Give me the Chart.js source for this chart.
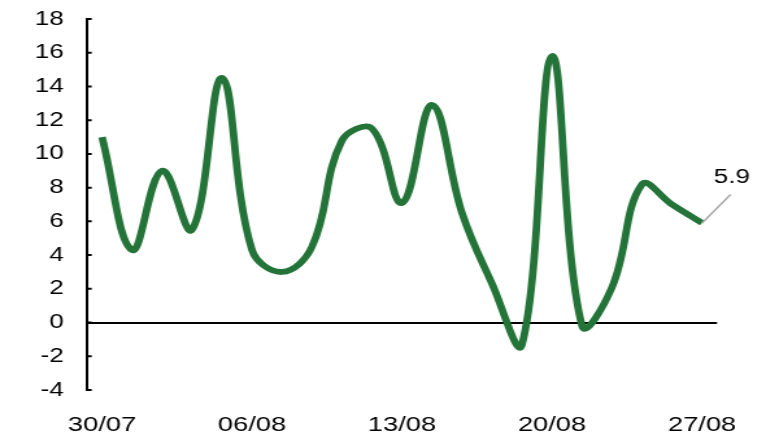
<!DOCTYPE html>
<html>
<head>
<meta charset="utf-8">
<script src="https://cdn.jsdelivr.net/npm/chart.js@4.4.0/dist/chart.umd.min.js"></script>
<style>
  html, body { margin: 0; padding: 0; background: #ffffff; overflow: hidden; }
  #stage { width: 779px; height: 432px; overflow: hidden; }
  /* the chart is laid out narrow and widened to the full frame */
  #wrap { width: 600px; height: 432px; transform: scaleX(1.2983); transform-origin: 0 0; }
</style>
</head>
<body>
<div id="stage"><div id="wrap"><canvas id="c"></canvas></div></div>
<script>
// Trading days, 30 July to 27 August
const dates = ['30/07','31/07','01/08','02/08','05/08','06/08','07/08','08/08','09/08',
               '12/08','13/08','14/08','15/08','16/08','19/08','20/08','21/08','22/08',
               '23/08','26/08','27/08'];
const values = [11.0, 4.3, 9.0, 5.5, 14.5, 4.3, 3.0, 4.5, 10.8, 11.5, 7.1,
                12.9, 6.5, 2.3, -1.3, 15.8, -0.2, 2.1, 8.2, 7.0, 5.9];
const xTickLabels = ['30/07','06/08','13/08','20/08','27/08'];
const yMin = -4, yMax = 18, yStep = 2;

const FONT = '"Liberation Sans", Arial, sans-serif';
const GREEN = '#247339';

// short inward tick marks on the value axis
const innerTicks = {
  id: 'innerTicks',
  afterDraw(chart) {
    const ys = chart.scales.y;
    const ctx = chart.ctx;
    ctx.save();
    ctx.strokeStyle = '#000';
    ctx.lineWidth = 2;
    ctx.beginPath();
    ys.ticks.forEach((t, i) => {
      const y = ys.getPixelForTick(i);
      ctx.moveTo(ys.right, y);
      ctx.lineTo(ys.right + 3.6, y);
    });
    ctx.stroke();
    ctx.restore();
  }
};

// callout with the latest value
const lastLabel = {
  id: 'lastLabel',
  afterDatasetsDraw(chart) {
    const meta = chart.getDatasetMeta(0);
    const p = meta.data[meta.data.length - 1];
    const ctx = chart.ctx;
    ctx.save();
    ctx.strokeStyle = '#a6a6a6';
    ctx.lineWidth = 1.4;
    ctx.beginPath();
    ctx.moveTo(p.x, p.y);
    ctx.lineTo(p.x + 22, p.y - 28.5);
    ctx.stroke();
    ctx.fillStyle = '#000';
    ctx.font = '20px ' + FONT;
    ctx.textAlign = 'center';
    ctx.textBaseline = 'middle';
    ctx.fillText(values[values.length - 1].toFixed(1), p.x + 23, p.y - 46);
    ctx.restore();
  }
};

new Chart(document.getElementById('c'), {
  type: 'line',
  data: {
    labels: dates,
    datasets: [{
      data: values,
      borderColor: GREEN,
      borderWidth: 5.8,
      tension: 0.4,
      pointRadius: 0,
      fill: false,
      clip: false
    }]
  },
  options: {
    responsive: true,
    maintainAspectRatio: false,
    animation: false,
    events: [],
    layout: { padding: { left: 0, right: 47.7, top: 19, bottom: 0 } },
    plugins: { legend: { display: false }, tooltip: { enabled: false } },
    scales: {
      x: {
        type: 'category',
        offset: true,
        border: { display: false },
        grid: { display: false, drawTicks: false },
        ticks: {
          autoSkip: false,
          maxRotation: 0,
          padding: 22.5,
          color: '#000',
          font: { family: FONT, size: 21 },
          callback(v, i) {
            const lab = dates[i];
            return xTickLabels.includes(lab) ? lab : '';
          }
        },
        afterFit(s) { s.height = 42; }
      },
      y: {
        min: yMin,
        max: yMax,
        border: { display: true, color: '#000', width: 2 },
        grid: {
          drawTicks: false,
          lineWidth: 2,
          color: c => (c.tick && c.tick.value === 0) ? '#000' : 'rgba(0,0,0,0)'
        },
        ticks: {
          stepSize: yStep,
          padding: 18,
          color: '#000',
          font: { family: FONT, size: 20 }
        },
        afterFit(s) {
          s.width = 67;
          s.paddingTop = 0;
          s.paddingBottom = 0;
        }
      }
    }
  },
  plugins: [innerTicks, lastLabel]
});
</script>
</body>
</html>
